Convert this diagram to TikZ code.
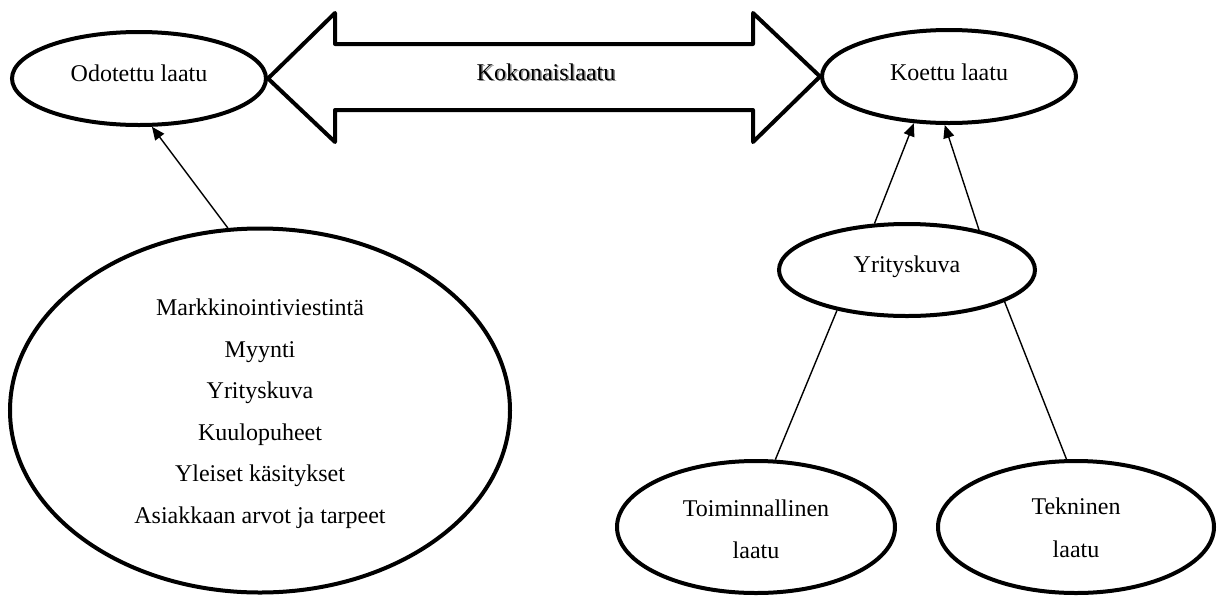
\documentclass[tikz,border=0pt]{standalone}
\usepackage{fontspec}
\setmainfont{Liberation Serif}
\usetikzlibrary{shapes.geometric,arrows.meta}
\begin{document}
\begin{tikzpicture}[x=1pt,y=-1pt,
  oval/.style={draw,ellipse,line width=4pt,inner sep=0pt},
  lbl/.style={anchor=base,inner sep=0pt,font=\fontsize{24}{28}\selectfont},
  conn/.style={line width=1.4pt},
  arr/.style={conn,-{Triangle[length=13pt,width=11pt]}}]
\useasboundingbox (0,0) rectangle (1219,598);
% ellipses
\node[oval,minimum width=254pt,minimum height=93pt] (odo) at (139,78.5) {};
\node[oval,minimum width=254pt,minimum height=93pt] (koe) at (949,76.5) {};
\node[oval,minimum width=500pt,minimum height=364pt] (big) at (260,410.5) {};
\node[oval,minimum width=256pt,minimum height=92pt] (yri) at (907,270) {};
\node[oval,minimum width=278pt,minimum height=132pt] (toi) at (756,527) {};
\node[oval,minimum width=276pt,minimum height=132pt] (tek) at (1076,527) {};
% texts
\node[lbl] at (139,81) {Odotettu laatu};
\node[lbl] at (949,80) {Koettu laatu};
\node[lbl] at (907,272) {Yrityskuva};
\node[lbl] at (260,315.7) {Markkinointiviestintä};
\node[lbl] at (260,357) {Myynti};
\node[lbl] at (260,398.5) {Yrityskuva};
\node[lbl] at (260,440) {Kuulopuheet};
\node[lbl] at (260,481.5) {Yleiset käsitykset};
\node[lbl] at (260,523) {Asiakkaan arvot ja tarpeet};
\node[lbl] at (756,516) {Toiminnallinen};
\node[lbl] at (756,558) {laatu};
\node[lbl] at (1076,514) {Tekninen};
\node[lbl] at (1076,557) {laatu};
% double arrow
\draw[line width=4pt,line join=round]
  (odo.east) -- (335,13) -- (335,44) -- (753,44) -- (753,13) -- (koe.west)
  -- (753,142) -- (753,110) -- (335,110) -- (335,142) -- cycle;
\node[lbl,text=black!45] at (547.5,81.5) {Kokonaislaatu};
\node[lbl] (kok) at (546,80) {Kokonaislaatu};
% connectors
\draw[arr] (big.100.8) -- (odo.285);
\draw[arr] (yri.125.3) -- (koe.233.8);
\draw[arr] (yri.29.6) -- (koe.265.5);
\draw[conn] (yri.210.8) -- (toi.74.4);
\draw[conn] (yri.342.1) -- (tek.98.6);
\end{tikzpicture}
\end{document}
